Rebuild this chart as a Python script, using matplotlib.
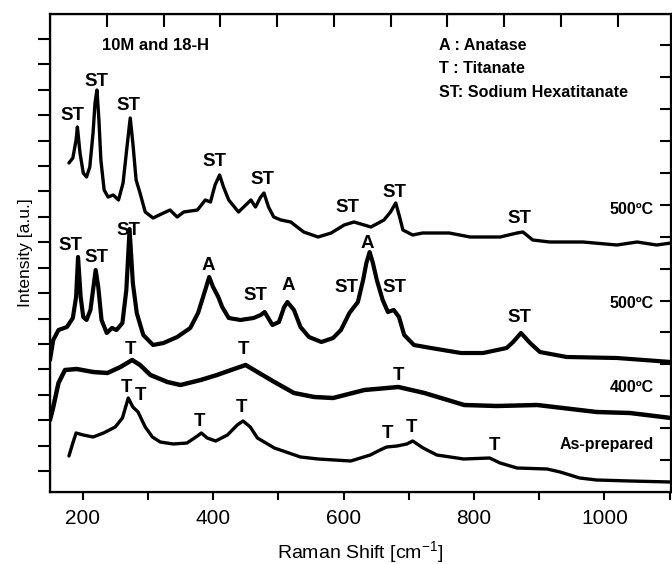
import matplotlib
matplotlib.use("Agg")
import matplotlib.pyplot as plt
import numpy as np

plt.rcParams['font.family'] = ['Liberation Sans', 'DejaVu Sans']
plt.rcParams['mathtext.fontset'] = 'custom'
plt.rcParams['mathtext.rm'] = 'Liberation Sans'
plt.rcParams['mathtext.it'] = 'Liberation Sans'

# ---- data (Raman shift in cm^-1, intensity in arbitrary units, stacking offsets included) ----
top_x = [179, 185, 190, 192, 196, 201, 206, 211, 216, 219, 222, 225, 228, 233, 239, 247,
         255, 262, 268, 273, 277, 282, 288, 296, 308, 324, 334, 345, 355, 376, 388, 396,
         403, 410, 416, 424, 439, 458, 465, 473, 478, 485, 493, 504, 519, 539, 561, 581,
         601, 616, 642, 662, 672, 680, 686, 691, 706, 721, 762, 794, 840, 866, 875, 890,
         916, 967, 1019, 1050, 1080, 1102]
top_y = [329, 334, 352, 365, 339, 319, 315, 325, 359, 389, 402, 372, 332, 302, 295, 297,
         292, 309, 345, 374, 349, 312, 299, 280, 274, 279, 282, 275, 280, 282, 292, 290,
         307, 317, 305, 292, 280, 292, 285, 295, 299, 285, 275, 272, 270, 260, 255, 259,
         267, 270, 265, 272, 280, 289, 275, 262, 257, 259, 259, 255, 255, 259, 260, 252,
         250, 250, 247, 250, 247, 249]

mid_x = [150, 155, 163, 176, 185, 190, 193, 197, 201, 206, 212, 216, 220, 224, 229, 237,
         245, 252, 261, 267, 272, 277, 283, 293, 308, 324, 345, 365, 377, 388, 394, 400,
         408, 414, 424, 442, 462, 473, 479, 491, 501, 509, 514, 524, 534, 547, 566, 584,
         596, 609, 622, 630, 635, 640, 645, 651, 660, 668, 677, 685, 693, 708, 734, 780,
         814, 850, 860, 872, 886, 901, 942, 1019, 1102]
mid_y = [132, 152, 162, 165, 174, 195, 235, 195, 175, 172, 182, 202, 222, 205, 172, 159,
         164, 162, 169, 202, 263, 209, 179, 157, 147, 149, 155, 164, 179, 202, 215, 205,
         195, 185, 174, 172, 174, 177, 180, 167, 170, 185, 190, 182, 165, 155, 150, 154,
         162, 179, 190, 212, 229, 240, 229, 212, 192, 180, 182, 175, 157, 147, 144, 139,
         139, 144, 150, 159, 149, 140, 135, 134, 130]

t400_x = [150, 155, 163, 173, 191, 216, 238, 258, 276, 288, 304, 330, 350, 381, 406, 432,
          450, 468, 494, 524, 555, 584, 632, 684, 724, 785, 835, 897, 988, 1039, 1102]
t400_y = [72, 85, 109, 122, 123, 120, 119, 125, 132, 127, 117, 110, 107, 112, 117, 123,
          127, 120, 110, 99, 95, 94, 102, 105, 99, 87, 86, 87, 80, 79, 74]

asp_x = [179, 185, 190, 201, 216, 232, 250, 261, 270, 277, 285, 296, 307, 319, 339, 360,
         376, 382, 391, 404, 422, 437, 446, 457, 468, 494, 534, 561, 611, 641, 656, 666,
         682, 697, 706, 722, 743, 774, 784, 824, 840, 866, 912, 932, 962, 988, 1039, 1102]
asp_y = [36, 49, 59, 57, 55, 59, 65, 74, 94, 85, 80, 65, 55, 50, 48, 49,
         56, 59, 54, 51, 57, 67, 71, 65, 54, 44, 35, 33, 31, 37, 42, 45,
         46, 48, 51, 44, 37, 34, 33, 34, 29, 24, 23, 20, 14, 12, 11, 10]

# peak annotations: (label, x, y)
peak_labels = [
    ("ST", 185, 377), ("ST", 222, 411), ("ST", 270, 387), ("ST", 402, 331),
    ("ST", 476, 313), ("ST", 606, 285), ("ST", 678, 300), ("ST", 870, 274),
    ("ST", 181, 247), ("ST", 222, 234), ("ST", 270, 262), ("A", 393, 226),
    ("ST", 465, 197), ("A", 516, 207), ("ST", 604, 204), ("A", 637, 249),
    ("ST", 678, 204), ("ST", 870, 174),
    ("T", 273, 142), ("T", 447, 142), ("T", 685, 117),
    ("T", 268, 105), ("T", 288, 97), ("T", 379, 70), ("T", 444, 84),
    ("T", 668, 59), ("T", 704, 64), ("T", 831, 46),
]
curve_labels = [("500ºC", 283), ("500ºC", 188), ("400ºC", 105), ("As-prepared", 47)]
legend_lines = ["A : Anatase", "T : Titanate", "ST: Sodium Hexatitanate"]
xticks = [200, 400, 600, 800, 1000]

# ---- figure ----
fig = plt.figure(figsize=(6.72, 5.64), dpi=100)
ax = fig.add_axes([50/672, 72/564, 621/672, 478/564])

for xs, ys, lw in [(top_x, top_y, 2.4), (mid_x, mid_y, 3.0),
                   (t400_x, t400_y, 3.2), (asp_x, asp_y, 2.4)]:
    ax.plot(xs, ys, color='black', lw=lw, solid_joinstyle='round', solid_capstyle='round')

ax.set_xlim(150, 1102)
ax.set_ylim(0, 478)

for lab, x, y in peak_labels:
    ax.text(x, y, lab, ha='center', va='center', fontsize=13.5, fontweight='bold')

ax.text(230, 447, "10M and 18-H", ha='left', va='center', fontsize=12, fontweight='bold')
for i, s in enumerate(legend_lines):
    ax.text(747, 447 - 23.5 * i, s, ha='left', va='center', fontsize=11.6, fontweight='bold')
for s, y in curve_labels:
    ax.text(1075, y, s, ha='right', va='center', fontsize=11.5, fontweight='bold')

# bottom / left axes
ax.set_xticks(xticks)
ax.set_xticks([300, 500, 700, 900, 1100], minor=True)
ax.set_yticks(21 + 25.41 * np.arange(18))
ax.set_yticklabels([])
ax.tick_params(axis='x', which='both', direction='out', length=6, width=1.5, labelsize=15, pad=6)
ax.tick_params(axis='y', which='both', direction='out', length=9, width=1.5)
for sp in ax.spines.values():
    sp.set_linewidth(1.6)

ax.set_xlabel("Raman Shift [cm$^{-1}$]", fontsize=14, labelpad=8)
ax.set_ylabel("Intensity [a.u.]", fontsize=12.5)
ax.yaxis.set_label_coords(-0.027, 0.5)

# top and right ticks (inward)
axt = ax.twiny()
axt.set_xlim(ax.get_xlim())
axt.set_xticks(237 + 87 * np.arange(10))
axt.set_xticklabels([])
axt.tick_params(axis='x', direction='in', length=9, width=1.5)

axr = ax.twinx()
axr.set_ylim(ax.get_ylim())
axr.set_yticks(32 + 31.9 * np.arange(14))
axr.set_yticklabels([])
axr.tick_params(axis='y', direction='in', length=8, width=1.5)

fig.savefig("out.png", dpi=100)
